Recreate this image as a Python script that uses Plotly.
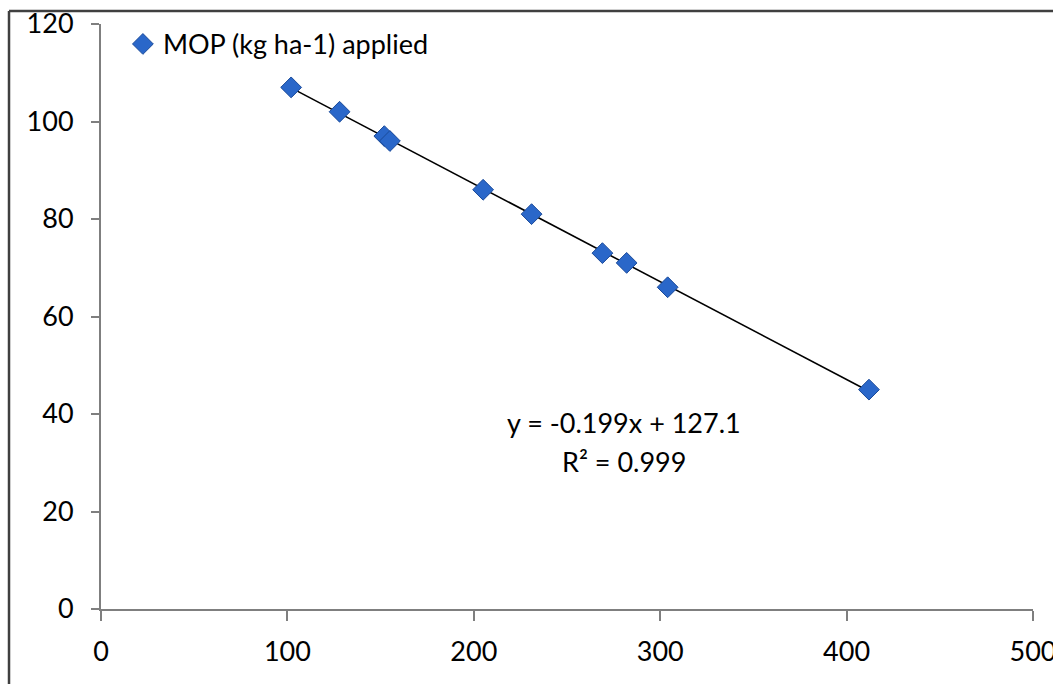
import numpy as np
import plotly.graph_objects as go

mop_x = [102, 128, 152, 155, 205, 231, 269, 282, 304, 412]
mop_y = [107, 102, 97, 96, 86, 81, 73, 71, 66, 45]
series_name = "MOP (kg ha-1) applied"
eq_text = "y = -0.199x + 127.1"
r2_text = "R² = 0.999"
x_ticks = [0, 100, 200, 300, 400, 500]
y_ticks = [0, 20, 40, 60, 80, 100, 120]

slope, intercept = np.polyfit(mop_x, mop_y, 1)
fit_x = [min(mop_x), max(mop_x)]
fit_y = [slope * v + intercept for v in fit_x]

FONT = "Lato, Carlito, Calibri, sans-serif"

fig = go.Figure()
fig.add_trace(go.Scatter(
    x=fit_x, y=fit_y, mode="lines",
    line=dict(color="black", width=1.6),
    showlegend=False, hoverinfo="skip"))
fig.add_trace(go.Scatter(
    x=mop_x, y=mop_y, mode="markers", name=series_name,
    marker=dict(symbol="diamond", size=16, color="#2a67c9",
                line=dict(color="#1a4a9a", width=1))))

fig.update_layout(
    width=1053, height=684,
    margin=dict(l=101, r=20, t=24, b=75, autoexpand=False),
    paper_bgcolor="white", plot_bgcolor="white",
    font=dict(family=FONT, size=27, color="black"),
    showlegend=True,
    legend=dict(x=0.0235, y=1.007, xanchor="left", yanchor="top",
                bgcolor="rgba(0,0,0,0)", font=dict(size=27),
                itemwidth=30),
    xaxis=dict(range=[0, 500], tickvals=x_ticks, showgrid=False,
               zeroline=False, showline=True, linecolor="#7f7f7f",
               linewidth=2, ticks="outside", ticklen=10, tickwidth=2,
               tickcolor="#7f7f7f", ticklabelstandoff=8,
               automargin=False, ticklabeloverflow="allow"),
    yaxis=dict(range=[0, 120], tickvals=y_ticks, showgrid=False,
               zeroline=False, showline=True, linecolor="#7f7f7f",
               linewidth=2, ticks="outside", ticklen=8, tickwidth=2,
               tickcolor="#7f7f7f", ticklabelstandoff=12,
               automargin=False, ticklabeloverflow="allow"),
    annotations=[
        dict(x=280.5, y=38.2, xref="x", yref="y",
             xanchor="center", yanchor="middle",
             text=eq_text, showarrow=False,
             font=dict(size=27, family=FONT)),
        dict(x=280.5, y=30.2, xref="x", yref="y",
             xanchor="center", yanchor="middle",
             text=r2_text, showarrow=False,
             font=dict(size=27, family=FONT)),
    ],
    shapes=[
        dict(type="line", xref="paper", yref="paper",
             x0=-0.0987, x1=1.03, y0=1.0222, y1=1.0222,
             line=dict(color="#404040", width=2.5)),
        dict(type="line", xref="paper", yref="paper",
             x0=-0.0987, x1=-0.0987, y0=1.0222, y1=-0.14,
             line=dict(color="#404040", width=2.5)),
    ],
)

fig.write_html("out.html",
               config={"displayModeBar": False},
               post_script="document.body.style.margin='0px';")
